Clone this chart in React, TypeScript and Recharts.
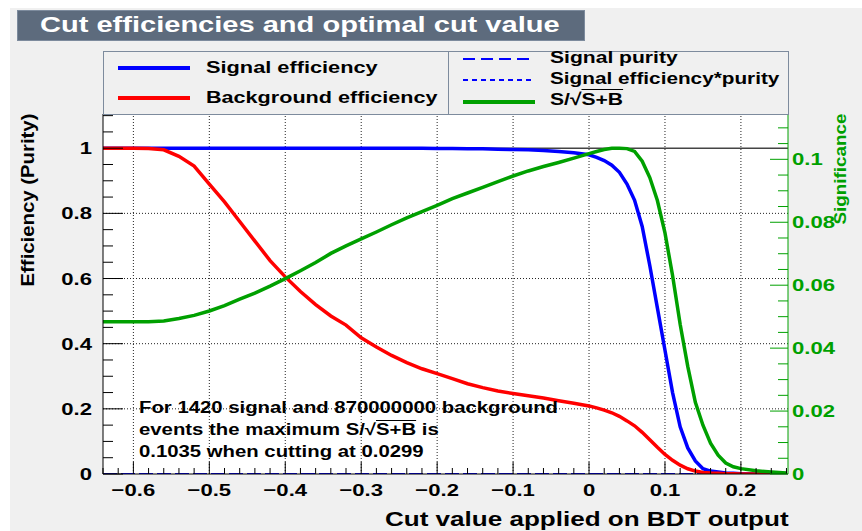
import React from "react";
import {
  ComposedChart,
  Line,
  XAxis,
  YAxis,
  ReferenceLine,
  ReferenceArea,
} from "recharts";

// cut values on the BDT output (x), finer steps where the curves fall off
const cutValues = [
  -0.64, -0.62, -0.6, -0.58, -0.56, -0.54, -0.52, -0.5, -0.48, -0.46, -0.44,
  -0.42, -0.4, -0.38, -0.36, -0.34, -0.32, -0.3, -0.28, -0.26, -0.24, -0.22,
  -0.2, -0.18, -0.16, -0.14, -0.12, -0.1, -0.08, -0.06, -0.04, -0.02, 0,
  0.01, 0.02, 0.03, 0.04, 0.05, 0.06, 0.07, 0.08, 0.09, 0.1, 0.11, 0.12, 0.13,
  0.14, 0.15, 0.16, 0.17, 0.18, 0.19, 0.2, 0.22, 0.24, 0.26,
];

const signalEff = [
  1, 1, 1, 1, 1, 1, 1, 1, 1, 1, 1, 1, 1, 1, 1, 1, 1, 1, 1, 1, 1, 1, 0.999,
  0.999, 0.998, 0.998, 0.997, 0.996, 0.995, 0.993, 0.99, 0.986, 0.98,
  0.972, 0.962, 0.948, 0.926, 0.89, 0.84, 0.76, 0.64, 0.51, 0.38, 0.25, 0.145,
  0.08, 0.04, 0.016, 0.009, 0.006, 0.003, 0.002, 0.001, 0, 0, 0,
];

const backgroundEff = [
  1, 1, 1, 0.999, 0.995, 0.975, 0.945, 0.89, 0.835, 0.775, 0.715, 0.655,
  0.605, 0.56, 0.52, 0.485, 0.457, 0.418, 0.39, 0.364, 0.342, 0.323, 0.308,
  0.293, 0.277, 0.265, 0.255, 0.247, 0.24, 0.233, 0.225, 0.217, 0.209,
  0.203, 0.196, 0.188, 0.177, 0.163, 0.148, 0.128, 0.105, 0.082, 0.06, 0.042,
  0.027, 0.016, 0.009, 0.005, 0.003, 0.002, 0.001, 0.001, 0, 0, 0, 0,
];

const signalPurity = [
  0, 0, 0, 0, 0, 0, 0, 0, 0, 0, 0, 0, 0, 0, 0, 0, 0, 0, 0, 0, 0, 0, 0, 0, 0,
  0, 0, 0, 0, 0, 0, 0, 0, 0, 0, 0, 0, 0, 0, 0, 0, 0, 0, 0, 0, 0, 0, 0, 0, 0,
  0, 0, 0, 0, 0, 0,
];

const signalEffPurity = [
  0, 0, 0, 0, 0, 0, 0, 0, 0, 0, 0, 0, 0, 0, 0, 0, 0, 0, 0, 0, 0, 0, 0, 0, 0,
  0, 0, 0, 0, 0, 0, 0, 0, 0, 0, 0, 0, 0, 0, 0, 0, 0, 0, 0, 0, 0, 0, 0, 0, 0,
  0, 0, 0, 0, 0, 0,
];

// S/sqrt(S+B), right axis
const significance = [
  0.0484, 0.0484, 0.0484, 0.0484, 0.0486, 0.0494, 0.0504, 0.0518, 0.0535,
  0.0556, 0.0575, 0.0597, 0.0621, 0.0646, 0.0672, 0.0701, 0.0725, 0.0747,
  0.0769, 0.0792, 0.0814, 0.0834, 0.0854, 0.0875, 0.0893, 0.0911, 0.0929,
  0.0947, 0.0963, 0.0977, 0.099, 0.1004, 0.1018,
  0.1025, 0.1031, 0.1035, 0.1035, 0.1034, 0.1025, 0.0994, 0.0942, 0.0869,
  0.0766, 0.0631, 0.0476, 0.0342, 0.0228, 0.0155, 0.0098, 0.006, 0.0035,
  0.0023, 0.0017, 0.001, 0.0006, 0.0003,
];

const xMajorTicks = [-0.6, -0.5, -0.4, -0.3, -0.2, -0.1, 0, 0.1, 0.2];
const effMajorTicks = [0, 0.2, 0.4, 0.6, 0.8, 1];
const sigMajorTicks = [0, 0.02, 0.04, 0.06, 0.08, 0.1];

const X_DOMAIN = [-0.64, 0.262];
const EFF_MAX = 1.105;
const SIG_MAX = 0.1144;

const BLUE = "#0000ff";
const RED = "#ff0000";
const GREEN = "#00a000";
const FONT = "'Liberation Sans', Arial, Helvetica, sans-serif";
const TICK_SX = 1.3;

const data = cutValues.map((x, i) => ({
  x,
  sigEff: signalEff[i],
  bkgEff: backgroundEff[i],
  purity: signalPurity[i],
  effPurity: signalEffPurity[i],
  signif: significance[i],
}));

const stepTicks = (from: number, to: number, step: number) => {
  const out: number[] = [];
  for (let v = from; v <= to + 1e-9; v += step) out.push(Math.round(v * 1e4) / 1e4);
  return out;
};

const xTicks = stepTicks(-0.64, 0.26, 0.02);
const effTicks = stepTicks(0, 1.1, 0.05);
const sigTicks = stepTicks(0, 0.11, 0.005);

const isMajor = (majors: number[], v: number) =>
  majors.some((m) => Math.abs(m - v) < 1e-6);

const fmt = (v: number) => (v === 0 ? "0" : v < 0 ? "\u2212" + Math.abs(v) : String(v));

const XTick = (props: any) => {
  const { x, y, payload } = props;
  const major = isMajor(xMajorTicks, payload.value);
  return (
    <g>
      <line x1={x} y1={y} x2={x} y2={y - (major ? 12 : 6)} stroke="#000" />
      {major && (
        <text transform={`translate(${x} ${y + 22}) scale(${TICK_SX} 1)`} textAnchor="middle" fontSize={17} fontWeight="bold" fontFamily={FONT} fill="#000">
          {fmt(payload.value)}
        </text>
      )}
    </g>
  );
};

const LeftTick = (props: any) => {
  const { x, y, payload } = props;
  const major = isMajor(effMajorTicks, payload.value);
  return (
    <g>
      <line x1={x} y1={y} x2={x + (major ? 20 : 10)} y2={y} stroke="#000" />
      {major && (
        <text transform={`translate(${x - 11} ${y + 6}) scale(${TICK_SX} 1)`} textAnchor="end" fontSize={17} fontWeight="bold" fontFamily={FONT} fill="#000">
          {fmt(payload.value)}
        </text>
      )}
    </g>
  );
};

const RightTick = (props: any) => {
  const { x, y, payload } = props;
  const major = isMajor(sigMajorTicks, payload.value);
  return (
    <g>
      <line x1={x} y1={y} x2={x - (major ? 18 : 10)} y2={y} stroke={GREEN} />
      {major && (
        <text transform={`translate(${x + 4} ${y + 6}) scale(${TICK_SX} 1)`} textAnchor="start" fontSize={17} fontWeight="bold" fontFamily={FONT} fill={GREEN}>
          {fmt(payload.value)}
        </text>
      )}
    </g>
  );
};

const txt = (left: number, cy: number, size: number, sx: number, extra: React.CSSProperties = {}) =>
  ({
    position: "absolute",
    left,
    top: cy - size * 0.6,
    lineHeight: `${size * 1.2}px`,
    fontSize: size,
    fontWeight: "bold",
    whiteSpace: "nowrap",
    color: "#000",
    transform: `scaleX(${sx})`,
    transformOrigin: "left center",
    ...extra,
  }) as React.CSSProperties;

export default function App() {
  return (
    <div style={{ position: "absolute", left: 0, top: 0, width: 862, height: 531, background: "#fff", fontFamily: FONT, overflow: "hidden" }}>
      <div style={{ position: "absolute", left: 10, top: 8, right: 0, bottom: 0, background: "#f0f0f0" }} />

      <div style={{ position: "absolute", left: 0, top: 0 }}>
        <ComposedChart width={862} height={531} data={data} margin={{ top: 114, right: 0, bottom: 0, left: 0 }}>
          <XAxis
            dataKey="x"
            type="number"
            domain={X_DOMAIN}
            allowDataOverflow
            ticks={xTicks}
            interval={0}
            tickSize={0}
            tickMargin={0}
            tickLine={false}
            tick={<XTick />}
            height={57}
            axisLine={{ stroke: "#000" }}
          />
          <YAxis
            yAxisId="eff"
            type="number"
            domain={[0, EFF_MAX]}
            allowDataOverflow
            ticks={effTicks}
            interval={0}
            tickSize={0}
            tickMargin={0}
            tickLine={false}
            tick={<LeftTick />}
            width={103}
            axisLine={{ stroke: "#000" }}
          />
          <YAxis
            yAxisId="sig"
            orientation="right"
            type="number"
            domain={[0, SIG_MAX]}
            allowDataOverflow
            ticks={sigTicks}
            interval={0}
            tickSize={0}
            tickMargin={0}
            tickLine={false}
            tick={<RightTick />}
            width={74}
            axisLine={{ stroke: GREEN }}
          />
          <ReferenceArea yAxisId="eff" x1={X_DOMAIN[0]} x2={X_DOMAIN[1]} y1={0} y2={EFF_MAX} fill="#fff" fillOpacity={1} stroke="none" />
          {xMajorTicks.map((v) => (
            <ReferenceLine key={"gx" + v} yAxisId="eff" x={v} stroke="#222" strokeDasharray="1 2" />
          ))}
          {effMajorTicks.slice(1, 5).map((v) => (
            <ReferenceLine key={"gy" + v} yAxisId="eff" y={v} stroke="#222" strokeDasharray="1 2" />
          ))}
          <ReferenceLine yAxisId="eff" y={1} stroke="#444" strokeWidth={1.5} />
          <Line yAxisId="eff" dataKey="purity" type="linear" stroke={BLUE} strokeWidth={2} strokeDasharray="12 6" dot={false} isAnimationActive={false} />
          <Line yAxisId="eff" dataKey="effPurity" type="linear" stroke={BLUE} strokeWidth={2} strokeDasharray="5 4" dot={false} isAnimationActive={false} />
          <Line yAxisId="eff" dataKey="sigEff" type="linear" stroke={BLUE} strokeWidth={3.5} dot={false} isAnimationActive={false} />
          <Line yAxisId="eff" dataKey="bkgEff" type="linear" stroke={RED} strokeWidth={3.5} dot={false} isAnimationActive={false} />
          <Line yAxisId="sig" dataKey="signif" type="linear" stroke={GREEN} strokeWidth={3.5} dot={false} isAnimationActive={false} />
        </ComposedChart>
      </div>

      {/* title box */}
      <div
        style={{
          position: "absolute",
          left: 17,
          top: 10,
          width: 568,
          height: 31,
          background: "#5D6B7D",
          border: "1px solid #7D8B9D",
          boxSizing: "border-box",
        }}
      />
      <div style={txt(40, 25, 22, 1.32, { color: "#fff" })}>Cut efficiencies and optimal cut value</div>

      {/* legend */}
      <div style={{ position: "absolute", left: 103, top: 51, width: 686, height: 64, border: "1px solid #7D8B9D", boxSizing: "border-box" }} />
      <div style={{ position: "absolute", left: 448, top: 51, width: 1, height: 63, background: "#7D8B9D" }} />
      <svg width={862} height={531} style={{ position: "absolute", left: 0, top: 0 }}>
        <line x1={118} x2={190} y1={68} y2={68} stroke={BLUE} strokeWidth={4} />
        <line x1={118} x2={190} y1={98} y2={98} stroke={RED} strokeWidth={4} />
        <line x1={463} x2={535} y1={59} y2={59} stroke={BLUE} strokeWidth={2} strokeDasharray="12 6" />
        <line x1={463} x2={535} y1={80} y2={80} stroke={BLUE} strokeWidth={2} strokeDasharray="5 4" />
        <line x1={463} x2={535} y1={102} y2={102} stroke={GREEN} strokeWidth={4} />
      </svg>
      <div style={txt(206, 68, 17, 1.28)}>Signal efficiency</div>
      <div style={txt(206, 98, 17, 1.27)}>Background efficiency</div>
      <div style={txt(550, 58, 17, 1.24)}>Signal purity</div>
      <div style={txt(550, 79, 17, 1.22)}>Signal efficiency*purity</div>
      <div style={txt(550, 100, 17, 1.24)}>
        S/√<span style={{ textDecoration: "overline" }}>S+B</span>
      </div>

      {/* optimal cut annotation */}
      <div style={txt(139, 408, 16, 1.27)}>For 1420 signal and 870000000 background</div>
      <div style={txt(139, 430, 16, 1.27)}>
        events the maximum S/√<span style={{ textDecoration: "overline" }}>S+B</span> is
      </div>
      <div style={txt(139, 452, 16, 1.27)}>0.1035 when cutting at 0.0299</div>

      {/* axis titles */}
      <div style={txt(385, 519, 21, 1.24, { width: 403 / 1.24, textAlign: "right" })}>Cut value applied on BDT output</div>
      <div
        style={{
          position: "absolute",
          left: 28,
          top: 200,
          transform: "translate(-50%, -50%) rotate(-90deg) scaleX(1.13)",
          fontSize: 18,
          fontWeight: "bold",
          whiteSpace: "nowrap",
          color: "#000",
        }}
      >
        Efficiency (Purity)
      </div>
      <div
        style={{
          position: "absolute",
          left: 841,
          top: 169,
          transform: "translate(-50%, -50%) rotate(-90deg) scaleX(1.11)",
          fontSize: 17,
          fontWeight: "bold",
          whiteSpace: "nowrap",
          color: GREEN,
        }}
      >
        Significance
      </div>
    </div>
  );
}
